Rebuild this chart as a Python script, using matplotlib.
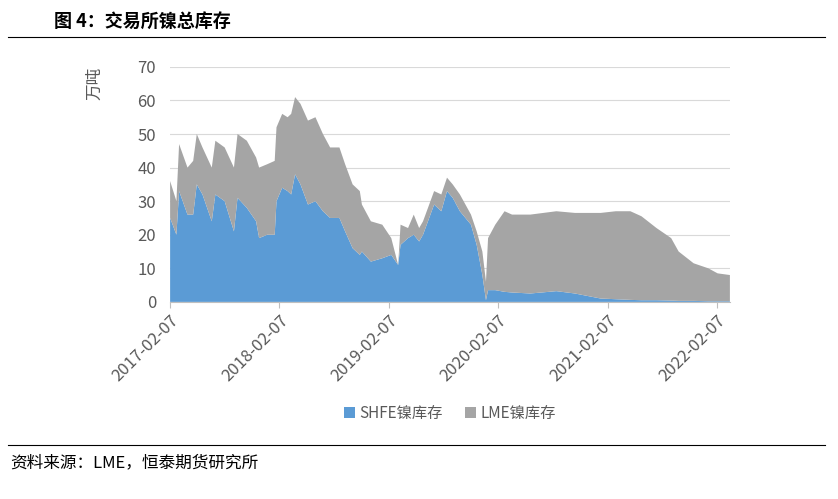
import numpy as np
import pandas as pd
import matplotlib.pyplot as plt
import matplotlib.dates as mdates

plt.rcParams['font.family'] = ['Noto Sans CJK SC', 'DejaVu Sans']

# days after 2017-02-07
days = [0, 21, 30, 58, 77, 89, 108, 139, 151, 182, 213, 225, 256, 287, 297, 324, 349, 355,
        374, 392, 404, 417, 435, 460, 485, 510, 534, 565, 584, 609, 633, 640, 670, 708, 738,
        761, 769, 794, 813, 831, 844, 881, 905, 924, 943, 967, 1004, 1023, 1042, 1054, 1061,
        1085, 1116, 1141, 1202, 1289, 1351, 1437, 1487, 1536, 1573, 1623, 1672, 1697, 1747,
        1796, 1827, 1868]
total = [36, 30, 47, 40, 42, 50, 46, 40, 48, 46, 40, 50, 48, 43, 40, 41, 42, 52,
         56, 55, 56, 61, 59, 54, 55, 50, 46, 46, 41, 35, 33, 29, 24, 23, 19,
         11, 23, 22, 26, 22, 24, 33, 32, 37, 35, 32, 26, 21, 15, 6, 19,
         23, 27, 26, 26, 27, 26.5, 26.5, 27, 27, 25.5, 22, 19, 15, 11.5,
         10, 8.5, 8]
shfe = [25, 20, 33, 26, 26, 35, 32, 24, 32, 30, 21, 31, 28, 24, 19, 20, 20, 30,
        34, 33, 32, 38, 35, 29, 30, 27, 25, 25, 21, 16, 14, 15, 12, 13, 14,
        11, 17, 19, 20, 18, 20, 29, 27, 33, 31, 27, 23, 17, 8, 0.5, 3.5,
        3.5, 3, 2.8, 2.5, 3.2, 2.5, 1, 0.8, 0.6, 0.5, 0.5, 0.4, 0.3, 0.3,
        0.2, 0.2, 0.2]
tick_dates = ['2017-02-07', '2018-02-07', '2019-02-07', '2020-02-07', '2021-02-07', '2022-02-07']

start = pd.Timestamp('2017-02-07')
dates = [start + pd.Timedelta(days=d) for d in days]
lme = np.array(total) - np.array(shfe)

fig = plt.figure(figsize=(8.38, 4.99), dpi=100)
ax = fig.add_axes([0.203, 0.395, 0.668, 0.471])
ax.stackplot(dates, shfe, lme, colors=['#5b9bd5', '#a5a5a5'],
             labels=['SHFE镍库存', 'LME镍库存'])
ax.set_ylim(0, 70)
ax.set_yticks(range(0, 71, 10))
ax.set_xlim(dates[0], dates[-1])
ax.set_xticks([pd.Timestamp(t) for t in tick_dates])
ax.xaxis.set_major_formatter(mdates.DateFormatter('%Y-%m-%d'))
ax.grid(axis='y', color='#d9d9d9', linewidth=0.8)
ax.set_axisbelow(True)
for s in ['top', 'right', 'left']:
    ax.spines[s].set_visible(False)
ax.spines['bottom'].set_color('#bfbfbf')
ax.tick_params(axis='y', length=0, labelsize=12, colors='#595959', pad=10)
ax.tick_params(axis='x', labelsize=12, colors='#595959', color='#bfbfbf', length=4)
plt.setp(ax.get_xticklabels(), rotation=45, ha='right', rotation_mode='anchor')
ax.set_ylabel('万吨', fontsize=12, color='#595959', labelpad=8)
ax.yaxis.set_label_coords(-0.12, 0.93)

ax.legend(loc='upper center', bbox_to_anchor=(0.5, -0.38), ncol=2, frameon=False,
          fontsize=11, labelcolor='#595959', handlelength=0.7, handleheight=0.7,
          columnspacing=1.5, handletextpad=0.3)

fig.text(0.065, 0.955, '图 4：交易所镍总库存', fontsize=13, fontweight='bold', va='center')
fig.add_artist(plt.Line2D([0.01, 0.985], [0.925, 0.925], color='black', linewidth=0.8))
fig.add_artist(plt.Line2D([0.01, 0.985], [0.108, 0.108], color='black', linewidth=0.8))
fig.text(0.012, 0.072, '资料来源：LME，恒泰期货研究所', fontsize=12, va='center')

fig.savefig('out.png', dpi=100)
